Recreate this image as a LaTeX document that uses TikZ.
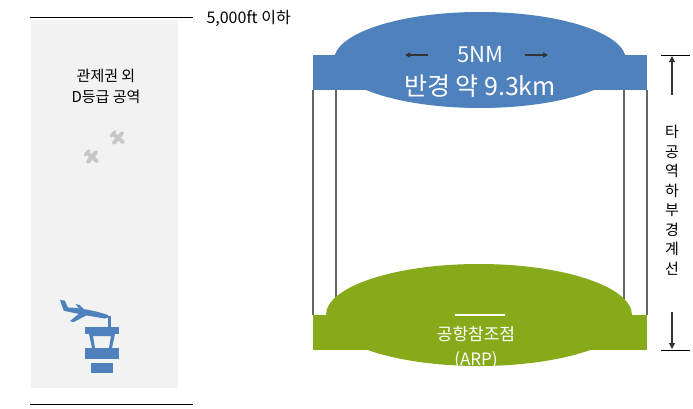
\documentclass[tikz,border=0pt]{standalone}
\usepackage{fontspec}
\setmainfont{Noto Sans CJK KR}
\usetikzlibrary{arrows.meta}
\definecolor{bl}{HTML}{4F81BD}
\definecolor{gr}{HTML}{86AA1A}
\definecolor{pane}{HTML}{F2F2F2}
\begin{document}
\begin{tikzpicture}[x=1pt,y=-1pt,
  lbl/.style={font=\fontsize{15}{21}\selectfont,align=center},
  post/.style={draw=gray!80!black,line width=1.2pt},
  dim/.style={draw=black!80,line width=1.2pt,-{Triangle[length=6pt,width=6pt]}}]
\useasboundingbox (0,0) rectangle (693,409);
% left panel
\fill[pane] (31,20) rectangle (178,388);
\draw[line width=1pt] (30,18) -- (193,18);
\draw[line width=1pt] (30,404) -- (193,404);
\node[lbl,anchor=west,font=\fontsize{16}{20}\selectfont] (lim) at (203,18) {5,000ft 이하};
\node[lbl] (ctr) at (106,86) {관제권 외\\D등급 공역};
% small grey planes
\foreach \cx/\cy in {92/157,118/138}{
  \begin{scope}[shift={(\cx,\cy)},rotate=-40]
  \fill[black!22,rounded corners=1.5pt] (-8,-2) rectangle (8,2);
  \fill[black!22,rounded corners=1.5pt] (-2,-8) rectangle (2,8);
  \fill[black!22,rounded corners=1pt] (-8,-4) rectangle (-5,4);
  \end{scope}}
% blue airplane
\begin{scope}[shift={(84,312)},rotate=-12]
\fill[bl] (-22,0) .. controls (-10,-3) and (10,-4) .. (24,-2) .. controls (26,0) .. (22,2) .. controls (5,3) and (-10,3) .. (-20,3) -- cycle;
\fill[bl] (-22,0) -- (-26,-7) -- (-21,-7) -- (-16,0) -- cycle;
\fill[bl] (-4,2) -- (-12,12) -- (-8,12) -- (4,2) -- cycle;
\fill[bl] (-4,-1) -- (-10,-6) -- (-6,-6) -- (2,-1) -- cycle;
\end{scope}
% tower
\fill[bl] (108,316) rectangle (111,327);
\fill[bl] (85,327) rectangle (119,334);
\fill[bl] (89,334) -- (115,334) -- (112,348) -- (109,348) -- (111,336) -- (93,336) -- (95,348) -- (92,348) -- cycle;
\fill[bl] (85,348) rectangle (119,359);
\fill[bl] (91,363) rectangle (113,373);
% posts
\draw[post] (313,90) -- (313,315) (336,90) -- (336,315)
            (624,90) -- (624,315) (647,90) -- (647,315);
% top disc
\fill[bl] (313,55) rectangle (647,90);
\fill[bl] (480,60) ellipse (146 and 48);
\node[font=\fontsize{22}{24}\selectfont,text=white] (nm) at (480,55) {5NM};
\node[font=\fontsize{25}{27}\selectfont,text=white] (rad) at (480,86) {반경 약 9.3km};
\coordinate (la1) at (428,55); \coordinate (la2) at (405,55);
\coordinate (ra1) at (525,55); \coordinate (ra2) at (548,55);
\draw[line width=1.5pt,-{Triangle[length=5pt,width=5pt]},black!80] (la1) -- (la2);
\draw[line width=1.5pt,-{Triangle[length=5pt,width=5pt]},black!80] (ra1) -- (ra2);
% bottom disc
\fill[gr] (313,315) rectangle (647,350);
\fill[gr] (479,315) ellipse (153 and 51);
\draw[white,line width=2pt] (455,315) -- (505,315);
\node[font=\fontsize{17}{25}\selectfont,text=white,align=center] (arp) at (476,348) {공항참조점\\(ARP)};
% dimension
\draw[line width=0.7pt] (661,55) -- (690,55) (661,350) -- (690,350);
\coordinate (u1) at (672,95); \coordinate (u2) at (672,56);
\coordinate (d1) at (672,312); \coordinate (d2) at (672,349);
\draw[dim] (u1) -- (u2);
\draw[dim] (d1) -- (d2);
\node[font=\fontsize{15}{19.5}\selectfont,align=center] (vt) at (672,200) {타\\공\\역\\하\\부\\경\\계\\선};
\end{tikzpicture}
\end{document}
